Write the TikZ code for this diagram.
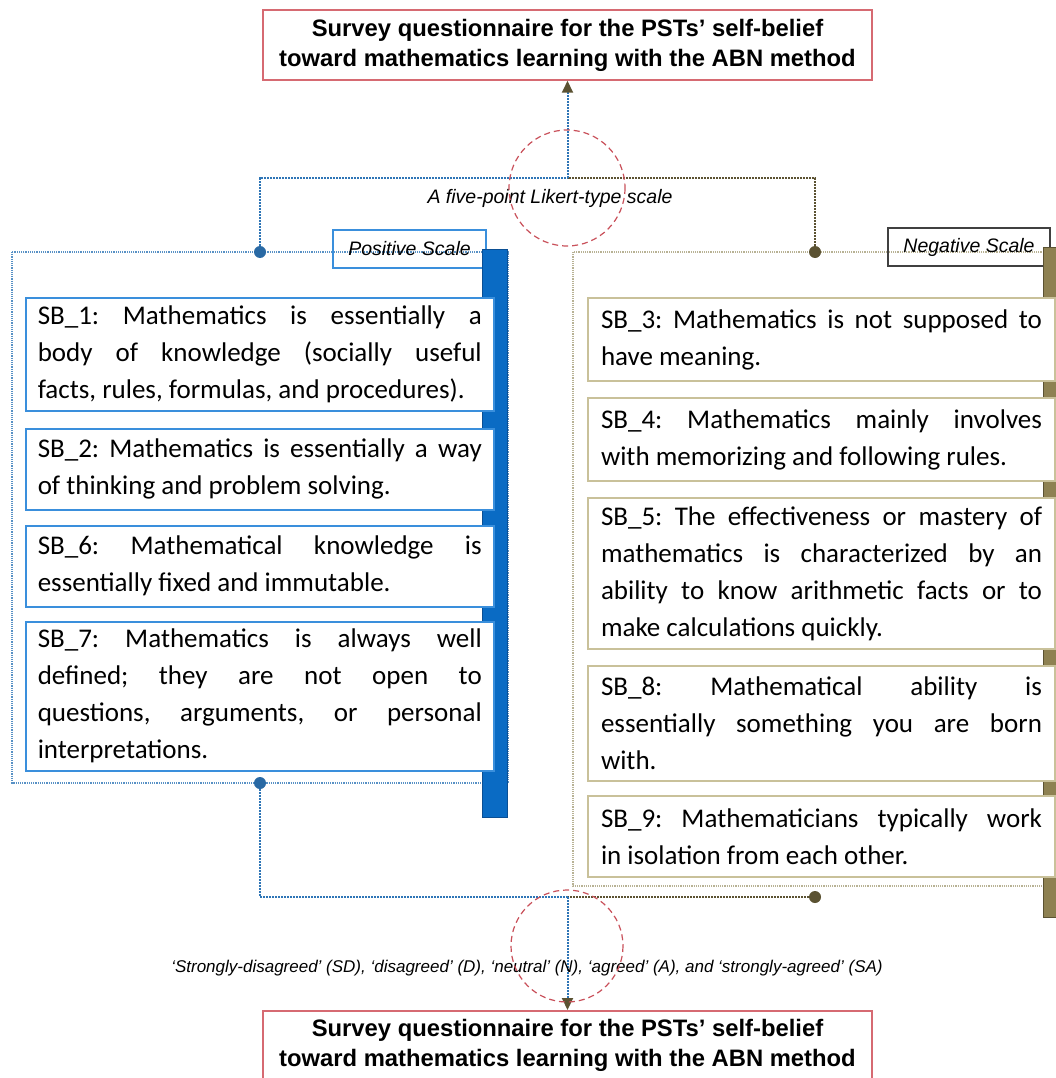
\documentclass[tikz,border=0pt]{standalone}
\usepackage{fontspec}
\setmainfont{Carlito}
\newfontfamily\arial{Liberation Sans}
\usetikzlibrary{arrows.meta}
\definecolor{bblue}{HTML}{2E75B6}
\definecolor{lblue}{HTML}{3A8FDC}
\definecolor{barblue}{HTML}{0A6BC4}
\definecolor{barblueD}{HTML}{0B4F94}
\definecolor{olive}{HTML}{8E8152}
\definecolor{oliveD}{HTML}{5B5232}
\definecolor{tan}{HTML}{C9C19A}
\definecolor{rframe}{HTML}{B8B294}
\definecolor{redbox}{HTML}{D66A72}
\definecolor{redc}{HTML}{C9505A}
\begin{document}
\begin{tikzpicture}[x=1pt,y=-1pt,
  titlebox/.style={draw=redbox,line width=1.5pt,fill=white,minimum width=609pt,minimum height=70pt,
    align=center,font=\arial\bfseries\fontsize{23.8}{30}\selectfont,inner sep=0pt},
  lbox/.style={draw=lblue,line width=1.5pt,fill=white,anchor=north west,text width=444pt,inner xsep=12pt,inner ysep=0pt,
    align=justify,font=\fontsize{27}{37}\selectfont\frenchspacing},
  rbox/.style={draw=tan,line width=2pt,fill=white,anchor=north west,text width=441pt,inner xsep=13pt,inner ysep=0pt,
    align=justify,font=\fontsize{27}{37}\selectfont\frenchspacing},
  bluedot/.style={draw=bblue,line width=2pt,densely dotted},
  olivedot/.style={draw=oliveD,line width=2pt,densely dotted},
  bdot/.style={circle,fill=bblue!90!black,inner sep=0pt,minimum size=12pt},
  odot/.style={circle,fill=oliveD,inner sep=0pt,minimum size=12pt},
  lab/.style={line width=1.3pt,inner sep=0pt,font=\arial\itshape\fontsize{19.5}{22}\selectfont},
  note/.style={font=\arial\itshape\fontsize{19.5}{22}\selectfont,inner sep=0pt},
  smallnote/.style={font=\arial\itshape\fontsize{17}{20}\selectfont,inner sep=0pt},
  ring/.style={draw=redc,line width=1.2pt,dash pattern=on 6pt off 4pt},
  arr/.style={-{Triangle[length=12pt,width=11pt,color=oliveD]}}
]
\useasboundingbox (0,0) rectangle (1056,1078);
\fill[white] (0,0) rectangle (1056,1078);
\hyphenpenalty=10000

% title boxes
\node[titlebox] (top) at (567.5,45) {Survey questionnaire for the PSTs’ self-belief\\toward mathematics learning with the ABN method};
\node[titlebox,anchor=north] (bot) at (567.5,1010) {Survey questionnaire for the PSTs’ self-belief\\toward mathematics learning with the ABN method};

% frames
\draw[draw=bblue!80,line width=1.2pt,densely dotted] (12,252) rectangle (508,783);
\draw[draw=rframe,line width=1.2pt,densely dotted] (573,252) rectangle (1050,886);

% scale labels
\node[lab,draw=lblue,minimum width=153pt,minimum height=38pt] (pos) at (409.5,249) {Positive Scale};
\node[lab,draw=black!75,minimum width=162pt,minimum height=38pt] (neg) at (969,247) {Negative Scale};

% bars
\filldraw[fill=barblue,draw=barblueD,line width=1pt] (482,249) rectangle (507,817);
\filldraw[fill=olive,draw=oliveD,line width=1pt] (1043,247) rectangle (1062,917);

% left items
\node[lbox,minimum height=113pt] (sb1) at (25,297) {SB\_1: Mathematics is essentially a\linebreak body of knowledge (socially useful\linebreak facts, rules, formulas, and procedures).};
\node[lbox,minimum height=81pt] (sb2) at (25,428) {SB\_2: Mathematics is essentially a way\linebreak of thinking and problem solving.};
\node[lbox,minimum height=81pt] (sb6) at (25,525) {SB\_6: Mathematical knowledge is\linebreak essentially fixed and immutable.};
\node[lbox,minimum height=149pt] (sb7) at (25,621) {SB\_7: Mathematics is always well\linebreak defined; they are not open to\linebreak questions, arguments, or personal\linebreak interpretations.};

% right items
\node[rbox,minimum height=83pt] (sb3) at (587,297) {SB\_3: Mathematics is not supposed to\linebreak have meaning.};
\node[rbox,minimum height=83pt] (sb4) at (587,397) {SB\_4: Mathematics mainly involves\linebreak with memorizing and following rules.};
\node[rbox,minimum height=151pt] (sb5) at (587,497) {SB\_5: The effectiveness or mastery of\linebreak mathematics is characterized by an\linebreak ability to know arithmetic facts or to\linebreak make calculations quickly.};
\node[rbox,minimum height=115pt] (sb8) at (587,665) {SB\_8: Mathematical ability is\linebreak essentially something you are born\linebreak with.};
\node[rbox,minimum height=81pt] (sb9) at (587,795) {SB\_9: Mathematicians typically work\linebreak in isolation from each other.};

% connectors top
\coordinate (j1) at (567.5,178);
\coordinate (cl) at (260,178);
\coordinate (cr) at (815,178);
\node[bdot] (dl1) at (260,252) {};
\node[odot] (dr1) at (815,252) {};
\draw[bluedot] (dl1) -- (cl) -- (j1);
\draw[olivedot] (dr1) -- (cr) -- (j1);
\draw[bluedot,arr] (j1) -- (top.south);

% connectors bottom
\coordinate (j2) at (567.5,897);
\coordinate (cb) at (260,897);
\node[bdot] (dl2) at (260,783) {};
\node[odot] (dr2) at (815,897) {};
\draw[bluedot] (dl2) -- (cb) -- (j2);
\draw[olivedot] (dr2) -- (j2);
\draw[bluedot,arr] (j2) -- (bot.north);

% notes
\node[note] (lik) at (550,198) {A five-point Likert-type scale};
\node[smallnote] (resp) at (527,968) {‘Strongly-disagreed’ (SD), ‘disagreed’ (D), ‘neutral’ (N), ‘agreed’ (A), and ‘strongly-agreed’ (SA)};

% rings
\draw[ring] (567,188) circle (58);
\draw[ring] (567,946) circle (56);
\end{tikzpicture}
\end{document}
